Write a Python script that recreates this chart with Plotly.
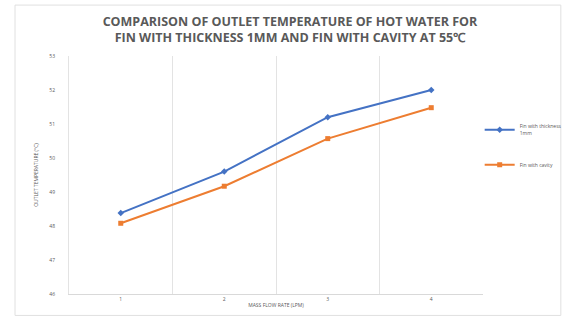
import plotly.graph_objects as go

# Mass flow rate categories (LPM) and outlet temperatures (°C)
flow_rates = ["1", "2", "3", "4"]
temp_fin_1mm = [48.38, 49.60, 51.20, 52.00]
temp_fin_cavity = [48.08, 49.17, 50.57, 51.48]
y_ticks = [46, 47, 48, 49, 50, 51, 52, 53]

series_names = ["Fin with thickness<br>1mm", "Fin with cavity"]
series_colors = ["#4472C4", "#ED7D31"]
series_symbols = ["diamond", "square"]

xpos = list(range(1, len(flow_rates) + 1))

fig = go.Figure()
for i, (vals, name) in enumerate(zip([temp_fin_1mm, temp_fin_cavity], series_names)):
    fig.add_trace(go.Scatter(
        x=xpos, y=vals, name=name, mode="lines+markers",
        line=dict(color=series_colors[i], width=2),
        marker=dict(symbol=series_symbols[i], size=5, color=series_colors[i]),
        legendgroup=f"g{i}",
    ))

fig.update_layout(
    width=563, height=320,
    margin=dict(l=69, r=80, t=56, b=26, autoexpand=False),
    paper_bgcolor="white", plot_bgcolor="white",
    title=dict(
        text="COMPARISON OF OUTLET TEMPERATURE OF HOT WATER FOR<br>FIN WITH THICKNESS 1MM AND FIN WITH CAVITY AT 55℃",
        x=0.515, xanchor="center", xref="container",
        y=0.918, yanchor="top", yref="container",
        font=dict(family="Open Sans", size=12.5, color="#595959", weight="bold"),
    ),
    legend=dict(
        xref="container", yref="container",
        x=0.852, xanchor="left", y=0.64, yanchor="top",
        font=dict(family="Open Sans", size=5, color="#595959"),
        tracegroupgap=16, itemwidth=30, bgcolor="rgba(0,0,0,0)",
    ),
    showlegend=True,
)

fig.update_xaxes(
    range=[0.5, 4.5], tickmode="array", tickvals=xpos, ticktext=flow_rates,
    showgrid=False, zeroline=False,
    showline=True, linecolor="#D9D9D9", linewidth=1,
    tickfont=dict(family="Open Sans", size=5, color="#595959"),
    ticks="", ticklen=0,
    minor=dict(showgrid=True, gridcolor="#E3E3E3", gridwidth=1,
               tickmode="linear", tick0=0.5, dtick=1),
    title=dict(text="MASS FLOW RATE (LPM)", standoff=2,
               font=dict(family="Open Sans", size=5, color="#595959")),
)
fig.update_yaxes(
    range=[46, 53], tickvals=y_ticks, showgrid=False, zeroline=False,
    showline=True, linecolor="#E3E3E3", linewidth=1,
    tickfont=dict(family="Open Sans", size=5, color="#595959"),
    ticks="", ticklabelstandoff=12,
    title=dict(text="OUTLET TEMPERATURE (°C)", standoff=10,
               font=dict(family="Open Sans", size=5, color="#595959")),
)

# Chart area border
fig.add_shape(type="rect", xref="paper", yref="paper",
              x0=-0.1304, x1=1.188, y0=-0.09, y1=1.214,
              line=dict(color="#E0E0E0", width=1), fillcolor="rgba(0,0,0,0)")

fig.write_html("out.html")
